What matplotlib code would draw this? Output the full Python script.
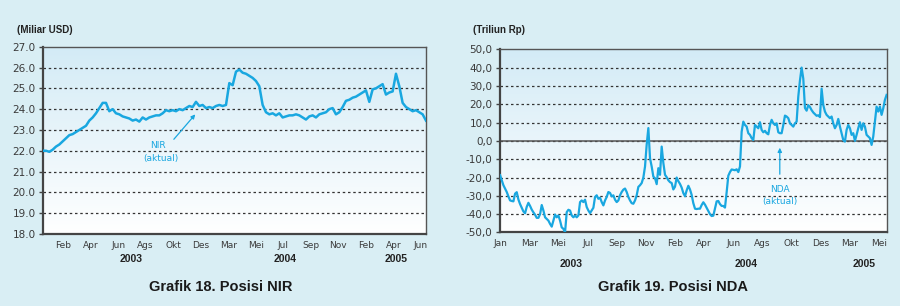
import numpy as np
import matplotlib
matplotlib.use("Agg")
import matplotlib.pyplot as plt
from matplotlib.colors import LinearSegmentedColormap
import matplotlib.transforms as mtransforms

# ---------------- data ----------------
nir_months = ["Feb", "Apr", "Jun", "Ags", "Okt", "Des", "Mar", "Mei", "Jul",
              "Sep", "Nov", "Feb", "Apr", "Jun"]
nir_years = ["2003", "2004", "2005"]
nir_values = [
    22.0, 22.0, 21.95, 22.05, 22.2, 22.3, 22.45, 22.6, 22.75, 22.8,
    22.9, 23.0, 23.1, 23.2, 23.45, 23.6, 23.8, 24.05, 24.3, 24.3,
    23.9, 24.0, 23.8, 23.75, 23.65, 23.6, 23.55, 23.45, 23.5, 23.4,
    23.6, 23.5, 23.6, 23.65, 23.7, 23.7, 23.8, 23.95, 23.9, 23.95,
    23.9, 24.0, 23.95, 24.05, 24.15, 24.1, 24.35, 24.15, 24.2, 24.05,
    24.1, 24.05, 24.15, 24.2, 24.15, 24.2, 25.25, 25.15, 25.8, 25.9,
    25.75, 25.7, 25.6, 25.5, 25.35, 25.1, 24.2, 23.85, 23.75, 23.8,
    23.7, 23.8, 23.6, 23.65, 23.7, 23.7, 23.75, 23.7, 23.6, 23.5,
    23.65, 23.7, 23.6, 23.75, 23.8, 23.85, 24.0, 24.05, 23.75, 23.85,
    24.1, 24.4, 24.45, 24.55, 24.6, 24.7, 24.8, 24.9, 24.35, 24.95,
    25.0, 25.1, 25.2, 24.7, 24.8, 24.85, 25.7, 25.1, 24.3, 24.1,
    24.0, 23.9, 23.95, 23.85, 23.75, 23.45,
]
nir_yticks = [18, 19, 20, 21, 22, 23, 24, 25, 26, 27]

nda_months = ["Jan", "Mar", "Mei", "Jul", "Sep", "Nov", "Feb", "Apr", "Jun",
              "Ags", "Okt", "Des", "Mar", "Mei"]
nda_years = ["2003", "2004", "2005"]
nda_values = [
    # Jan 2003 - Nov 2003
    -18.7, -21.5, -24.2, -26.0, -27.9, -30.3, -32.5, -32.8, -33.0, -28.8,
    -28.0, -32.0, -34.5, -36.5, -38.5, -39.5, -36.0, -33.8, -35.5, -37.5,
    -39.0, -40.3, -42.0, -42.0, -40.0, -35.0, -38.0, -41.7, -42.6, -43.5,
    -45.3, -46.8, -43.5, -40.2, -41.7, -40.7, -43.5, -47.2, -48.0, -49.9,
    -38.9, -37.6, -38.0, -40.7, -41.7, -40.7, -41.7, -40.7, -33.4, -32.5,
    -33.4, -32.1, -36.1, -38.0, -39.4, -38.0, -36.5, -30.6, -29.7, -31.6,
    -31.0, -33.4, -35.2, -32.5, -30.6, -27.9, -28.4, -30.3, -29.7, -32.1,
    -33.4, -32.5, -29.7, -27.9, -26.6, -26.0, -27.9, -30.6, -32.5, -34.0,
    -34.3, -32.5, -29.7, -25.1, -24.2,
    # Nov 2003 - Ags 2004
    -23.0, -20.0, -14.0, -2.0, 7.0, -9.5, -14.0, -19.5, -20.4, -23.6,
    -14.9, -18.5, -3.1, -12.0, -18.5, -19.8, -21.5, -22.5, -23.0, -26.5,
    -25.0, -20.0, -22.0, -23.5, -25.5, -28.5, -30.2, -27.0, -24.5, -26.5,
    -29.5, -34.0, -37.0, -37.2, -37.0, -37.0, -35.0, -33.5, -34.8, -36.5,
    -38.2, -40.0, -41.0, -40.8, -37.0, -33.0, -32.8, -34.5, -35.5, -35.5,
    -36.4, -28.0, -19.0, -17.0, -15.6, -15.8, -16.0, -15.5, -17.0, -14.0,
    5.0, 10.5, 8.7, 7.8, 4.2, 3.3, 1.5, 0.5, 8.7, 7.8,
    6.9, 10.2, 6.0, 4.7, 5.5,
    # Ags 2004 - Mei 2005
    4.2, 3.6, 8.7, 11.5, 9.6, 8.7, 9.6, 4.7, 4.2, 4.2,
    8.7, 13.8, 13.3, 12.4, 9.6, 8.7, 7.8, 9.6, 10.5, 24.2,
    33.0, 40.0, 34.0, 18.0, 16.5, 19.5, 18.5, 16.8, 15.5, 14.6,
    13.7, 14.0, 13.0, 28.5, 19.6, 16.0, 14.2, 13.3, 12.4, 13.3,
    9.6, 6.9, 8.7, 12.0, 7.8, 4.2, 0.5, -0.4, 6.0, 8.7,
    6.9, 3.3, 4.2, 0.0, 3.3, 6.9, 10.2, 6.0, 9.6, 7.8,
    3.3, 2.4, 1.5, -2.2, 2.4, 10.5, 18.7, 16.0, 18.7, 14.2,
    17.8, 22.4, 25.1,
]
nda_yticks = [-50, -40, -30, -20, -10, 0, 10, 20, 30, 40, 50]

# ---------------- style ----------------
BG = "#d9eef4"
LINE = "#19a7e0"
TXT = "#3a3a3a"
FONT = ["Liberation Sans Narrow", "DejaVu Sans"]
BOLD = ["Liberation Sans", "DejaVu Sans"]

fig = plt.figure(figsize=(9.0, 3.06), dpi=100, facecolor=BG)

grad = LinearSegmentedColormap.from_list("g", ["#d3ebf6", "#ffffff"])


def setup(ax, xlim, ylim, yticks, fmt, months, years, year_pos, year_y):
    ax.set_xlim(*xlim)
    ax.set_ylim(*ylim)
    ax.imshow(np.linspace(0, 1, 256).reshape(-1, 1), cmap=grad, aspect="auto",
              extent=(0, 1, 0, 1), transform=ax.transAxes, zorder=0)
    ax.set_facecolor("white")
    for s in ["left", "bottom"]:
        ax.spines[s].set_color("#444444")
        ax.spines[s].set_linewidth(1.6)
    for s in ["top", "right"]:
        ax.spines[s].set_color("#555555")
        ax.spines[s].set_linewidth(1.0)
    ax.set_yticks(yticks)
    ax.set_yticklabels([fmt(v) for v in yticks], fontsize=7.5, color=TXT,
                       family=FONT)
    ax.tick_params(axis="y", length=3, width=1, color="#444444", pad=2)
    ax.set_xticks(np.arange(len(months)))
    ax.set_xticklabels(months, fontsize=6.5, color=TXT, family=FONT)
    ax.tick_params(axis="x", length=0, pad=5)
    for v in yticks[1:-1]:
        ax.axhline(v, color="#333333", lw=0.9, ls=(0, (2, 2.2)), zorder=1)
    trans = mtransforms.blended_transform_factory(ax.transData, ax.transAxes)
    for yr, xp in zip(years, year_pos):
        ax.text(xp, year_y, yr, transform=trans, ha="center", va="center",
                fontsize=7.5, fontweight="bold", color="#222222", family=BOLD)


# ---- left chart: NIR ----
ax1 = fig.add_axes([0.0474, 0.2353, 0.4259, 0.6121])
xl1 = (-0.737, 13.18)
setup(ax1, xl1, (18, 27), nir_yticks, lambda v: f"{v:.1f}", nir_months,
      nir_years, [2.47, 8.06, 12.09], -0.133)
x1 = np.linspace(xl1[0], xl1[1], len(nir_values))
ax1.plot(x1, nir_values, color=LINE, lw=1.8, zorder=3, solid_joinstyle="round")
ax1.annotate("", xy=(4.87, 23.85), xytext=(3.96, 22.45),
             arrowprops=dict(arrowstyle="-|>", color=LINE, lw=0.9,
                             mutation_scale=6), zorder=4)
ax1.text(3.45, 22.25, "NIR", color=LINE, fontsize=6.5, ha="center",
         va="center", family=FONT)
ax1.text(3.55, 21.65, "(aktual)", color=LINE, fontsize=6.5, ha="center",
         va="center", family=FONT)

# ---- right chart: NDA ----
ax2 = fig.add_axes([0.555, 0.2402, 0.4309, 0.5987])
xl2 = (-0.02, 13.29)
setup(ax2, xl2, (-50, 50), nda_yticks, lambda v: f"{v:.1f}".replace(".", ","),
      nda_months, nda_years, [2.44, 8.44, 12.49], -0.172)
ax2.axhline(0, color="#555555", lw=1.1, zorder=2)
x2 = np.linspace(0.0, 13.265, len(nda_values))
ax2.plot(x2, nda_values, color=LINE, lw=1.6, zorder=3, solid_joinstyle="round")
ax2.annotate("", xy=(9.6, -2.2), xytext=(9.6, -19.7),
             arrowprops=dict(arrowstyle="-|>", color=LINE, lw=0.9,
                             mutation_scale=6), zorder=4)
ax2.text(9.6, -26.8, "NDA", color=LINE, fontsize=6.5, ha="center",
         va="center", family=FONT)
ax2.text(9.6, -33.3, "(aktual)", color=LINE, fontsize=6.5, ha="center",
         va="center", family=FONT)

# ---- texts ----
fig.text(0.019, 0.902, "(Miliar USD)", fontsize=7, fontweight="bold",
         color="#222222", va="center", ha="left", family=BOLD)
fig.text(0.5256, 0.902, "(Triliun Rp)", fontsize=7, fontweight="bold",
         color="#222222", va="center", ha="left", family=BOLD)
fig.text(0.2456, 0.062, "Grafik 18. Posisi NIR", fontsize=10.5,
         fontweight="bold", color="#1a1a1a", ha="center", va="center",
         family=BOLD)
fig.text(0.748, 0.062, "Grafik 19. Posisi NDA", fontsize=10.5,
         fontweight="bold", color="#1a1a1a", ha="center", va="center",
         family=BOLD)

fig.savefig("out.png", dpi=100, facecolor=BG)
